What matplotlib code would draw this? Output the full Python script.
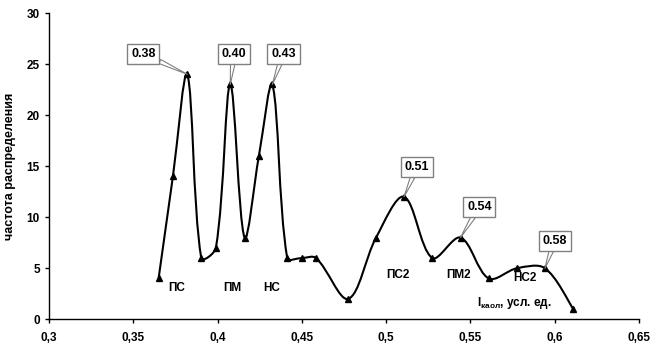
import numpy as np
import matplotlib.pyplot as plt
from matplotlib.path import Path
from matplotlib.patches import PathPatch

plt.rcParams['font.family'] = ['Liberation Sans', 'DejaVu Sans']
plt.rcParams['font.weight'] = 'bold'

# data
x_vals = [0.365, 0.3735, 0.382, 0.3903, 0.399, 0.4075, 0.416, 0.4245, 0.4325,
          0.4413, 0.4499, 0.4584, 0.4775, 0.494, 0.5106, 0.5273, 0.5441,
          0.5608, 0.5776, 0.5942, 0.611]
y_vals = [4, 14, 24, 6, 7, 23, 8, 16, 23, 6, 6, 6, 2, 8, 12, 6, 8, 4, 5, 5, 1]

# callouts: (point index, text, box position)
callouts = [(2, '0.38', (0.356, 26.0)), (5, '0.40', (0.4097, 26.0)),
            (8, '0.43', (0.4391, 26.0)), (14, '0.51', (0.5183, 14.9)),
            (16, '0.54', (0.5553, 11.0)), (19, '0.58', (0.6001, 7.67))]

phase_labels = ['ПС', 'ПМ', 'НС', 'ПС2', 'ПМ2', 'НС2']
phase_x = [0.376, 0.4088, 0.432, 0.5067, 0.5429, 0.5826]
phase_y = [3.05, 3.05, 3.05, 4.3, 4.3, 4.0]

x_ticks = [0.3, 0.35, 0.4, 0.45, 0.5, 0.55, 0.6, 0.65]
x_ticklabels = ['0,3', '0,35', '0,4', '0,45', '0,5', '0,55', '0,6', '0,65']
y_ticks = [0, 5, 10, 15, 20, 25, 30]


def smooth_path(xs, ys, sx, sy, tension=1.0 / 3):
    # Excel-like smoothed line: Bezier control lengths scaled by segment
    # lengths measured in screen units (sx, sy = pixels per data unit)
    pts = np.column_stack([xs, ys]) * [sx, sy]
    n = len(pts)
    d = np.hypot(*np.diff(pts, axis=0).T)
    verts = [pts[0]]
    codes = [Path.MOVETO]
    for i in range(n - 1):
        p0 = pts[max(i - 1, 0)]
        p1 = pts[i]
        p2 = pts[i + 1]
        p3 = pts[min(i + 2, n - 1)]
        da = d[i - 1] if i > 0 else d[i]
        db = d[i + 1] if i + 1 < n - 1 else d[i]
        c1 = p1 + (p2 - p0) * tension * d[i] / (da + d[i])
        c2 = p2 - (p3 - p1) * tension * d[i] / (d[i] + db)
        verts += [c1, c2, p2]
        codes += [Path.CURVE4] * 3
    verts = np.array(verts) / [sx, sy]
    return Path(verts, codes)


fig = plt.figure(figsize=(6.51, 3.52), dpi=100)
ax = fig.add_axes([0.0753, 0.093, 0.9063, 0.870])
ax.set_xlim(0.3, 0.65)
ax.set_ylim(0, 30)

px_x = 0.9063 * 651 / 0.35
px_y = 0.870 * 352 / 30
ax.add_patch(PathPatch(smooth_path(x_vals, y_vals, px_x, px_y), fill=False,
                       edgecolor='black', linewidth=1.5))
ax.plot(x_vals, y_vals, linestyle='none', marker='^', color='black',
        markersize=5, zorder=3)

for idx, txt, pos in callouts:
    ax.annotate(txt, xy=(x_vals[idx], y_vals[idx]), xytext=pos,
                fontsize=9, fontweight='bold', ha='center', va='center',
                bbox=dict(boxstyle='square,pad=0.3', fc='white', ec='#808080', lw=1),
                arrowprops=dict(arrowstyle='wedge,tail_width=0.35', fc='white',
                                ec='#808080', lw=0.8, shrinkA=0, shrinkB=0),
                zorder=4)

for lbl, px, py in zip(phase_labels, phase_x, phase_y):
    ax.text(px, py, lbl, fontsize=8.5, fontweight='bold', ha='center', va='center')

ax.text(0.5539, 1.6, r'I$_{\mathregular{каол}}$, усл. ед.', fontsize=8.5,
        fontweight='bold', ha='left', va='center')

ax.set_xticks(x_ticks)
ax.set_xticklabels(x_ticklabels)
ax.set_yticks(y_ticks)
ax.tick_params(labelsize=8.5, length=3, width=1, direction='out')
ax.tick_params(axis='x', pad=6)
for lab in ax.get_xticklabels() + ax.get_yticklabels():
    lab.set_fontweight('bold')
ax.spines['top'].set_visible(False)
ax.spines['right'].set_visible(False)
ax.spines['left'].set_linewidth(1)
ax.spines['bottom'].set_linewidth(1)
ax.set_ylabel('частота распределения', fontsize=9, fontweight='bold', labelpad=8)

fig.savefig('out.png', dpi=100)
